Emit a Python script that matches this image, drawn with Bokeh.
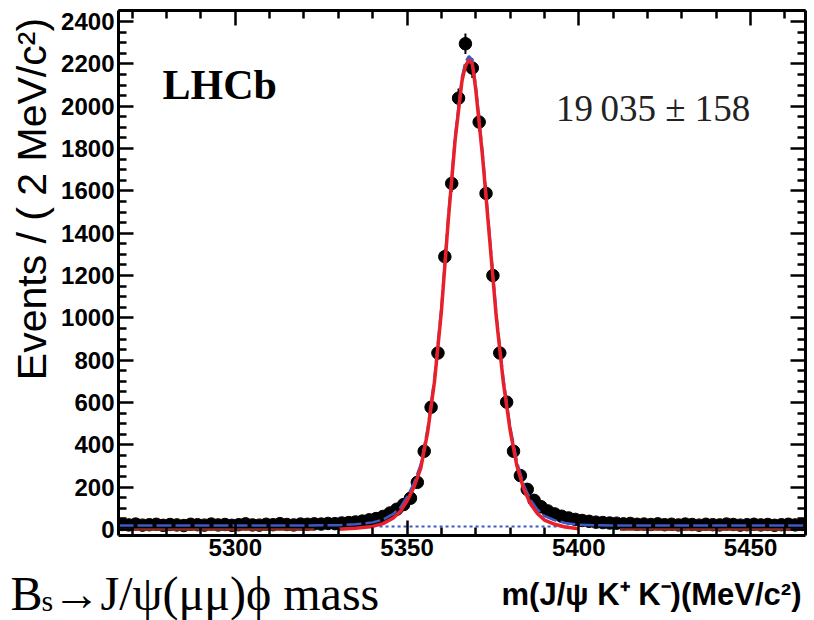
import math
from bokeh.plotting import figure
from bokeh.models import FixedTicker, LinearAxis, Label, Range1d, ColumnDataSource
from bokeh.layouts import row, column
from bokeh.embed import file_html
from bokeh.resources import INLINE

# ---------------- data ----------------
bin_centers = [5267, 5269, 5271, 5273, 5275, 5277, 5279, 5281, 5283, 5285,
               5287, 5289, 5291, 5293, 5295, 5297, 5299, 5301, 5303, 5305,
               5307, 5309, 5311, 5313, 5315, 5317, 5319, 5321, 5323, 5325,
               5327, 5329, 5331, 5333, 5335, 5337, 5339, 5341, 5343, 5345,
               5347, 5349, 5351, 5353, 5355, 5357, 5359, 5361, 5363, 5365,
               5367, 5369, 5371, 5373, 5375, 5377, 5379, 5381, 5383, 5385,
               5387, 5389, 5391, 5393, 5395, 5397, 5399, 5401, 5403, 5405,
               5407, 5409, 5411, 5413, 5415, 5417, 5419, 5421, 5423, 5425,
               5427, 5429, 5431, 5433, 5435, 5437, 5439, 5441, 5443, 5445,
               5447, 5449, 5451, 5453, 5455, 5457, 5459, 5461, 5463, 5465]
counts = [24, 22, 26, 21, 23, 25, 20, 24, 22, 19,
          25, 23, 21, 26, 22, 24, 20, 23, 27, 22,
          21, 25, 23, 28, 24, 22, 26, 25, 27, 26,
          29, 28, 31, 33, 36, 40, 46, 52, 62, 78,
          96, 118, 148, 223, 370, 578, 834, 1289, 1635, 2038,
          2295, 2180, 1925, 1588, 1200, 834, 602, 370, 255, 190,
          138, 108, 88, 74, 63, 55, 48, 43, 39, 35,
          33, 31, 30, 27, 29, 25, 26, 24, 27, 23,
          25, 22, 26, 24, 21, 25, 23, 22, 26, 24,
          21, 23, 25, 22, 24, 20, 23, 25, 22, 24]

fit_mass = [5266, 5300, 5320, 5326, 5330, 5335, 5340, 5343, 5346, 5348,
            5350, 5352, 5354, 5356, 5358, 5360, 5362, 5364, 5366, 5367,
            5368, 5369, 5370, 5372, 5374, 5376, 5378, 5380, 5382, 5384,
            5386, 5388, 5390, 5393, 5396, 5400, 5405, 5412, 5430, 5466]
signal_curve = [0, 0, 0, 1, 2, 6, 15, 28, 55, 85,
                135, 200, 290, 460, 700, 1030, 1460, 1840, 2120, 2190,
                2218, 2200, 2080, 1760, 1380, 1000, 700, 470, 300, 190,
                120, 75, 45, 25, 12, 4, 1, 0, 0, 0]
background_level = 19
signal_window = [5328, 5403]

comb_bkg_mass = [5342, 5398]
comb_bkg_level = 15

other_bkg_left = [5266, 5323]
other_bkg_right = [5412, 5466]
other_bkg_level = 0

x_major = [5300, 5350, 5400, 5450]
x_minor = [5270, 5280, 5290, 5310, 5320, 5330, 5340, 5360, 5370, 5380,
           5390, 5410, 5420, 5430, 5440, 5460]
y_major = [0, 200, 400, 600, 800, 1000, 1200, 1400, 1600, 1800, 2000, 2200, 2400]
y_minor = [50, 100, 150, 250, 300, 350, 450, 500, 550, 650, 700, 750, 850, 900, 950,
           1050, 1100, 1150, 1250, 1300, 1350, 1450, 1500, 1550, 1650, 1700, 1750,
           1850, 1900, 1950, 2050, 2100, 2150, 2250, 2300, 2350, 2450]

yield_text = "19\u2009035 \u00b1 158"
y_title = "Events / ( 2 MeV/c\u00b2)"
x_title = "m(J/\u03c8 K\u207a K\u207b)(MeV/c\u00b2)"
decay_main = "B"
decay_sub = "s"
decay_rest = "\u2192J/\u03c8(\u03bc\u03bc)\u03d5 mass"


def blank_fig(w, h):
    f = figure(width=w, height=h, x_range=Range1d(0, w), y_range=Range1d(0, h),
               x_axis_type=None, y_axis_type=None, output_backend="svg",
               toolbar_location=None, min_border=0)
    f.outline_line_color = None
    f.xgrid.visible = False
    f.ygrid.visible = False
    f.background_fill_color = "white"
    f.border_fill_color = "white"
    return f


MAIN_H = 565
STRIP_H = 620 - MAIN_H
TITLE_W = 58

# ---------------- main figure ----------------
p = figure(width=814 - TITLE_W, height=MAIN_H,
           x_range=Range1d(5266, 5466), y_range=Range1d(-28, 2452),
           output_backend="svg", toolbar_location=None,
           min_border_left=116 - TITLE_W, min_border_right=9,
           min_border_top=10, min_border_bottom=30)
p.background_fill_color = "white"
p.border_fill_color = "white"
p.outline_line_color = None
p.xgrid.visible = False
p.ygrid.visible = False

bottom_axis = p.below[0]
left_axis = p.left[0]
top_axis = LinearAxis()
right_axis = LinearAxis()
p.add_layout(top_axis, "above")
p.add_layout(right_axis, "right")

for ax in [bottom_axis, top_axis]:
    ax.ticker = FixedTicker(ticks=x_major, minor_ticks=x_minor)
for ax in [left_axis, right_axis]:
    ax.ticker = FixedTicker(ticks=y_major, minor_ticks=y_minor)

for ax in [bottom_axis, top_axis, left_axis, right_axis]:
    ax.axis_line_width = 3
    ax.axis_line_color = "black"
    ax.major_tick_in = 15
    ax.major_tick_out = 0
    ax.minor_tick_in = 8
    ax.minor_tick_out = 0
    ax.major_tick_line_width = 2.5
    ax.minor_tick_line_width = 2.5
    ax.major_tick_line_color = "black"
    ax.minor_tick_line_color = "black"
    ax.major_label_text_font = "Liberation Sans"
    ax.major_label_text_font_style = "bold"
    ax.major_label_text_font_size = "24px"
    ax.major_label_text_color = "black"

# mirrored axes: ticks only
top_axis.major_label_overrides = {t: "" for t in x_major}
right_axis.major_label_overrides = {t: "" for t in y_major}
for ax in [top_axis, right_axis]:
    ax.major_label_text_font_size = "1px"
    ax.major_label_standoff = 0

bottom_axis.major_label_standoff = 3
left_axis.major_label_standoff = 4

# data points (drawn first, fit curves on top as in the reference)
errs = [math.sqrt(c) for c in counts]
src = ColumnDataSource(dict(x=bin_centers, y=counts,
                            lo=[c - e for c, e in zip(counts, errs)],
                            hi=[c + e for c, e in zip(counts, errs)]))
p.segment(x0="x", x1="x", y0="lo", y1="hi", source=src, line_color="black", line_width=2)
p.scatter(x="x", y="y", source=src, size=12.5, marker="circle",
          fill_color="black", line_color="black")

# fit components
total_curve = [background_level + s for s in signal_curve]
p.line(fit_mass, total_curve, line_color="#3a5bc7", line_width=2.5, line_dash="15 4")
p.line(comb_bkg_mass, [comb_bkg_level, comb_bkg_level], line_color="#3a5bc7",
       line_width=2, line_dash="3 3")
p.line(other_bkg_left, [other_bkg_level] * 2, line_color="#8a2c1c", line_width=2.5)
p.line(other_bkg_right, [other_bkg_level] * 2, line_color="#8a2c1c", line_width=2.5)

sig_x = [m for m in fit_mass if signal_window[0] <= m <= signal_window[1]]
sig_y = [s for m, s in zip(fit_mass, signal_curve) if signal_window[0] <= m <= signal_window[1]]
p.line(sig_x, sig_y, line_color="#e8202a", line_width=3.5)

# texts inside the frame
p.add_layout(Label(x=5278.8, y=2098, text="LHCb",
                   text_font="Liberation Serif", text_font_style="bold",
                   text_font_size="42px", text_color="black",
                   text_baseline="middle"))
p.add_layout(Label(x=5393.4, y=1988, text=yield_text,
                   text_font="Liberation Serif", text_font_size="37px",
                   text_color="#222222", text_baseline="middle"))

# ---------------- y title strip ----------------
yfig = blank_fig(TITLE_W, MAIN_H)
yfig.add_layout(Label(x=31, y=MAIN_H - 8, text=y_title, angle=math.pi / 2,
                      text_font="Liberation Sans", text_font_size="41px",
                      text_align="right", text_baseline="middle", text_color="black"))

# ---------------- bottom strip ----------------
bfig = blank_fig(814, STRIP_H)
bfig.add_layout(Label(x=10, y=27.5, text=decay_main, text_font="Liberation Serif",
                      text_font_size="48px", text_baseline="middle", text_color="black"))
bfig.add_layout(Label(x=41, y=20, text=decay_sub, text_font="Liberation Serif",
                      text_font_size="30px", text_baseline="middle", text_color="black"))
bfig.add_layout(Label(x=52, y=27.5, text=decay_rest, text_font="Liberation Serif",
                      text_font_size="48px", text_baseline="middle", text_color="black"))
bfig.add_layout(Label(x=801, y=26, text=x_title, text_font="Liberation Sans",
                      text_font_style="bold", text_font_size="31px", text_align="right",
                      text_baseline="middle", text_color="black"))

layout = column(row(yfig, p), bfig)
open("out.html", "w").write(file_html(layout, INLINE))
